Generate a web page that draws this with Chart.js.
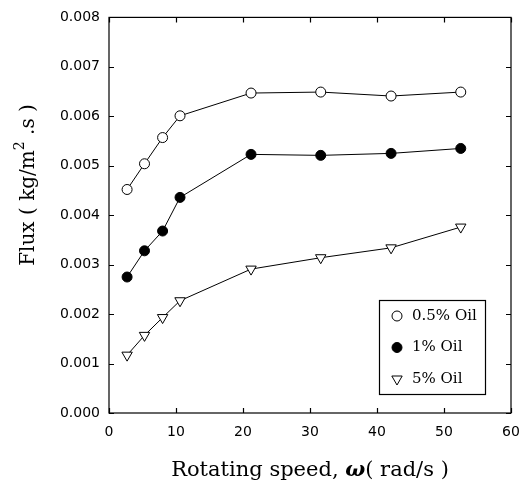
<!DOCTYPE html>
<html>
<head>
<meta charset="utf-8">
<script src="https://cdn.jsdelivr.net/npm/chart.js@4.4.1/dist/chart.umd.min.js"></script>
<style>
  html, body { margin: 0; padding: 0; background: #fff; }
  #wrap { width: 526px; height: 482px; }
</style>
</head>
<body>
<div id="wrap"><canvas id="fluxChart" width="526" height="482"></canvas></div>
<script>
// data
const speed = [2.7, 5.3, 8.0, 10.6, 21.2, 31.6, 42.1, 52.5];
const oil05 = [0.00452, 0.00504, 0.00557, 0.00601, 0.00647, 0.00649, 0.00641, 0.00649];
const oil1  = [0.00275, 0.00328, 0.00368, 0.00436, 0.00523, 0.00521, 0.00525, 0.00535];
const oil5  = [0.00117, 0.00157, 0.00193, 0.00227, 0.00291, 0.00314, 0.00334, 0.00376];
const seriesLabels = ["0.5% Oil", "1% Oil", "5% Oil"];
const xTitle = "Rotating speed, ";
const yTitle = "Flux ( kg/m";

function toPoints(ys) {
    return speed.map((x, i) => ({ x: x, y: ys[i] }));
}

// inward ticks + frame
const frameTicks = {
    id: "frameTicks",
    afterDatasetsDraw(chart) {
        const ctx = chart.ctx;
        const a = chart.chartArea;
        const xs = chart.scales.x, ys = chart.scales.y;
        ctx.save();
        ctx.strokeStyle = "#000";
        ctx.lineWidth = 1.2;
        ctx.strokeRect(a.left, a.top, a.right - a.left, a.bottom - a.top);
        const len = 5;
        ctx.beginPath();
        xs.ticks.forEach((t) => {
            const px = Math.round(xs.getPixelForValue(t.value)) + 0.5;
            ctx.moveTo(px, a.bottom); ctx.lineTo(px, a.bottom - len);
            ctx.moveTo(px, a.top); ctx.lineTo(px, a.top + len);
        });
        ys.ticks.forEach((t) => {
            const py = Math.round(ys.getPixelForValue(t.value)) + 0.5;
            ctx.moveTo(a.left, py); ctx.lineTo(a.left + len, py);
            ctx.moveTo(a.right, py); ctx.lineTo(a.right - len, py);
        });
        ctx.stroke();
        ctx.restore();
    }
};

// axis titles (with the omega and superscript)
const axisTitles = {
    id: "axisTitles",
    afterDraw(chart) {
        const ctx = chart.ctx;
        const a = chart.chartArea;
        ctx.save();
        ctx.fillStyle = "#000";
        ctx.textBaseline = "middle";

        // x title
        const serifX = "21px 'DejaVu Serif'";
        const omega = "italic bold 21px 'DejaVu Serif'";
        const rest = "( rad/s )";
        ctx.font = serifX;
        const w1 = ctx.measureText(xTitle).width;
        const w3 = ctx.measureText(rest).width;
        ctx.font = omega;
        const w2 = ctx.measureText("ω").width;
        let x = (a.left + a.right) / 2 - (w1 + w2 + w3) / 2;
        const y = 471;
        ctx.textAlign = "left";
        ctx.font = serifX; ctx.fillText(xTitle, x, y); x += w1;
        ctx.font = omega; ctx.fillText("ω", x, y); x += w2;
        ctx.font = serifX; ctx.fillText(rest, x, y);

        // y title, rotated
        const serif = "20px 'DejaVu Serif'";
        ctx.translate(29, 185);
        ctx.rotate(-Math.PI / 2);
        const sup = "2";
        const tail = " .s )";
        ctx.font = serif;
        const t1 = ctx.measureText(yTitle).width;
        const t3 = ctx.measureText(tail).width;
        ctx.font = "14px 'DejaVu Serif'";
        const t2 = ctx.measureText(sup).width;
        let tx = -(t1 + t2 + t3) / 2;
        ctx.font = serif; ctx.fillText(yTitle, tx, 0); tx += t1;
        ctx.font = "14px 'DejaVu Serif'"; ctx.fillText(sup, tx, -9); tx += t2;
        ctx.font = serif; ctx.fillText(tail, tx, 0);
        ctx.restore();
    }
};

// boxed legend inside the plot
const boxLegend = {
    id: "boxLegend",
    afterDraw(chart) {
        const ctx = chart.ctx;
        const bx = 379, by = 300, bw = 106, bh = 94;
        ctx.save();
        ctx.strokeStyle = "#000";
        ctx.lineWidth = 1.2;
        ctx.strokeRect(bx + 0.5, by + 0.5, bw, bh);
        ctx.font = "15px 'DejaVu Serif'";
        ctx.fillStyle = "#000";
        ctx.textBaseline = "middle";
        ctx.textAlign = "left";
        chart.data.datasets.forEach((ds, i) => {
            const cy = by + 16 + i * 31.5;
            ctx.strokeStyle = "#000";
            ctx.fillStyle = ds.pointBackgroundColor;
            ctx.lineWidth = 1;
            Chart.helpers.drawPoint(ctx, {
                pointStyle: ds.pointStyle,
                radius: ds.pointRadius,
                rotation: ds.pointRotation || 0,
                borderWidth: 1
            }, bx + 18, cy);
            ctx.fillStyle = "#000";
            ctx.fillText(ds.label, bx + 33, cy);
        });
        ctx.restore();
    }
};

const baseSet = {
    showLine: true,
    borderColor: "#000",
    borderWidth: 1,
    pointBorderColor: "#000",
    pointBorderWidth: 1,
    pointRadius: 5,
    pointHoverRadius: 5
};

new Chart(document.getElementById("fluxChart"), {
    type: "scatter",
    data: {
        datasets: [
            Object.assign({}, baseSet, { label: seriesLabels[0], data: toPoints(oil05), pointStyle: "circle", pointBackgroundColor: "#fff" }),
            Object.assign({}, baseSet, { label: seriesLabels[1], data: toPoints(oil1), pointStyle: "circle", pointBackgroundColor: "#000" }),
            Object.assign({}, baseSet, { label: seriesLabels[2], data: toPoints(oil5), pointStyle: "triangle", pointRotation: 180, pointRadius: 6, pointBackgroundColor: "#fff" })
        ]
    },
    options: {
        responsive: false,
        animation: false,
        layout: { padding: { top: 14, right: 15, left: 0, bottom: 0 } },
        plugins: { legend: { display: false }, tooltip: { enabled: false } },
        scales: {
            x: {
                type: "linear",
                min: 0, max: 60,
                grid: { display: false, drawTicks: false },
                border: { display: false },
                ticks: {
                    stepSize: 10,
                    padding: 11,
                    color: "#000",
                    font: { family: "'DejaVu Sans'", size: 14 }
                },
                afterFit(scale) {
                    scale.height = 69;
                    scale.paddingLeft = 0;
                    scale.paddingRight = 0;
                }
            },
            y: {
                type: "linear",
                min: 0, max: 0.008,
                grid: { display: false, drawTicks: false },
                border: { display: false },
                ticks: {
                    stepSize: 0.001,
                    padding: 9,
                    color: "#000",
                    font: { family: "'DejaVu Sans'", size: 14 },
                    callback: (v) => v.toFixed(3)
                },
                afterFit(scale) { scale.width = 109; }
            }
        }
    },
    plugins: [frameTicks, axisTitles, boxLegend]
});
</script>
</body>
</html>
